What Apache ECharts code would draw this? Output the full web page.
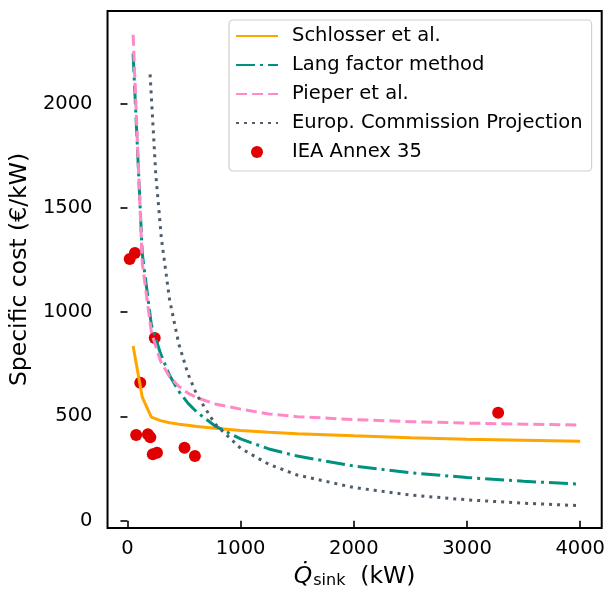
<!DOCTYPE html>
<html>
<head>
<meta charset="utf-8">
<script src="https://cdn.jsdelivr.net/npm/echarts@6/dist/echarts.min.js"></script>
<style>
html,body{margin:0;padding:0;background:#fff;}
#chart{width:608px;height:603px;}
</style>
</head>
<body>
<div id="chart"></div>
<script>
// ---- data ----
const curveX    = [50, 131, 211, 292, 372, 453, 534, 614, 775, 1000, 1250, 1500, 2000, 2500, 3000, 3500, 4000];
const schlosser = [838, 592, 497, 480, 470, 463, 458, 452, 443, 432, 424, 417, 407, 398, 391, 386, 381];
const lang      = [2240, 1280, 940, 802, 697, 621, 564, 520, 454, 392, 344, 310, 262, 230, 207, 189, 175];
const pieper    = [2330, 1235, 905, 765, 690, 645, 612, 590, 560, 535, 512, 499, 485, 475, 468, 463, 459];
const ecX       = [200, 250, 300, 372, 453, 534, 614, 775, 1000, 1250, 1500, 2000, 2500, 3000, 3500, 4000];
const ecY       = [2140, 1663, 1353, 1060, 849, 705, 602, 463, 347, 270, 219, 159, 123, 100, 84, 72];
const ieaX      = [20, 66, 113, 241, 77, 181, 202, 224, 261, 504, 596, 3275];
const ieaY      = [1255, 1284, 661, 876, 411, 415, 400, 319, 326, 350, 310, 518];
const xTicks    = [0, 1000, 2000, 3000, 4000];
const yTicks    = [0, 500, 1000, 1500, 2000];
const seriesNames = ['Schlosser et al.', 'Lang factor method', 'Pieper et al.', 'Europ. Commission Projection', 'IEA Annex 35'];

const pair = (xs, ys) => xs.map((x, i) => [x, ys[i]]);
const FONT = 'DejaVu Sans';
const hiddenSym = {color: 'rgba(0,0,0,0)', borderWidth: 0, opacity: 0};

const chart = echarts.init(document.getElementById('chart'), null, {renderer: 'canvas'});
chart.setOption({
  backgroundColor: '#ffffff',
  animation: false,
  textStyle: {fontFamily: FONT},
  grid: {left: 107, top: 11, width: 496, height: 517, show: true, borderColor: '#000', borderWidth: 2, backgroundColor: 'transparent'},
  legend: {
    left: 229, top: 20, orient: 'vertical',
    data: [
      {name: seriesNames[0], itemStyle: hiddenSym},
      {name: seriesNames[1], itemStyle: hiddenSym},
      {name: seriesNames[2], itemStyle: hiddenSym},
      {name: seriesNames[3], itemStyle: hiddenSym},
      {name: seriesNames[4]}
    ],
    itemWidth: 42, itemHeight: 12, itemGap: 9,
    padding: [6, 9, 9, 6],
    borderColor: '#d0d0d0', borderWidth: 1.2, borderRadius: 4,
    backgroundColor: 'rgba(255,255,255,0.8)',
    textStyle: {fontFamily: FONT, fontSize: 19.5, color: '#000', lineHeight: 20, padding: [0, 0, 0, 9]}
  },
  xAxis: {
    type: 'value', min: -176, max: 4190,
    axisLine: {show: false},
    axisTick: {show: true, length: 7, lineStyle: {color: '#000', width: 1.6}, customValues: xTicks},
    axisLabel: {fontFamily: FONT, fontSize: 19.5, color: '#000', margin: 11, customValues: xTicks, formatter: v => String(v)},
    splitLine: {show: false},
    name: '{q|Q\u0307}{s|sink}{n|  (kW)}',
    nameLocation: 'middle', nameGap: 36,
    nameTextStyle: {
      rich: {
        q: {fontFamily: FONT, fontSize: 23.5, fontStyle: 'italic', color: '#000'},
        s: {fontFamily: FONT, fontSize: 16, color: '#000', padding: [9, 0, 0, 1]},
        n: {fontFamily: FONT, fontSize: 23.5, color: '#000'}
      }
    }
  },
  yAxis: {
    type: 'value', min: -35, max: 2444,
    axisLine: {show: false},
    axisTick: {show: true, length: 7, lineStyle: {color: '#000', width: 1.6}, customValues: yTicks},
    axisLabel: {fontFamily: FONT, fontSize: 19.5, color: '#000', margin: 15, customValues: yTicks, formatter: v => String(v)},
    splitLine: {show: false},
    name: 'Specific cost (€/kW)',
    nameLocation: 'middle', nameGap: 72, nameRotate: 90,
    nameTextStyle: {fontFamily: FONT, fontSize: 23.5, color: '#000'}
  },
  series: [
    {name: seriesNames[0], type: 'line', data: pair(curveX, schlosser), symbol: 'none', z: 3,
     lineStyle: {color: '#ffa500', width: 3}, itemStyle: {color: '#ffa500'}},
    {name: seriesNames[1], type: 'line', data: pair(curveX, lang), symbol: 'none', z: 3,
     lineStyle: {color: '#00917f', width: 3, type: [19, 5, 3, 5]}, itemStyle: {color: '#00917f'}},
    {name: seriesNames[2], type: 'line', data: pair(curveX, pieper), symbol: 'none', z: 3,
     lineStyle: {color: '#ff88c6', width: 3, type: [11, 5]}, itemStyle: {color: '#ff88c6'}},
    {name: seriesNames[3], type: 'line', data: pair(ecX, ecY), symbol: 'none', z: 3,
     lineStyle: {color: '#4f5d6b', width: 3, type: [3, 5]}, itemStyle: {color: '#4f5d6b'}},
    {name: seriesNames[4], type: 'scatter', data: pair(ieaX, ieaY), symbol: 'circle', symbolSize: 12, z: 2,
     itemStyle: {color: '#e00000', opacity: 1}}
  ]
});
</script>
</body>
</html>
